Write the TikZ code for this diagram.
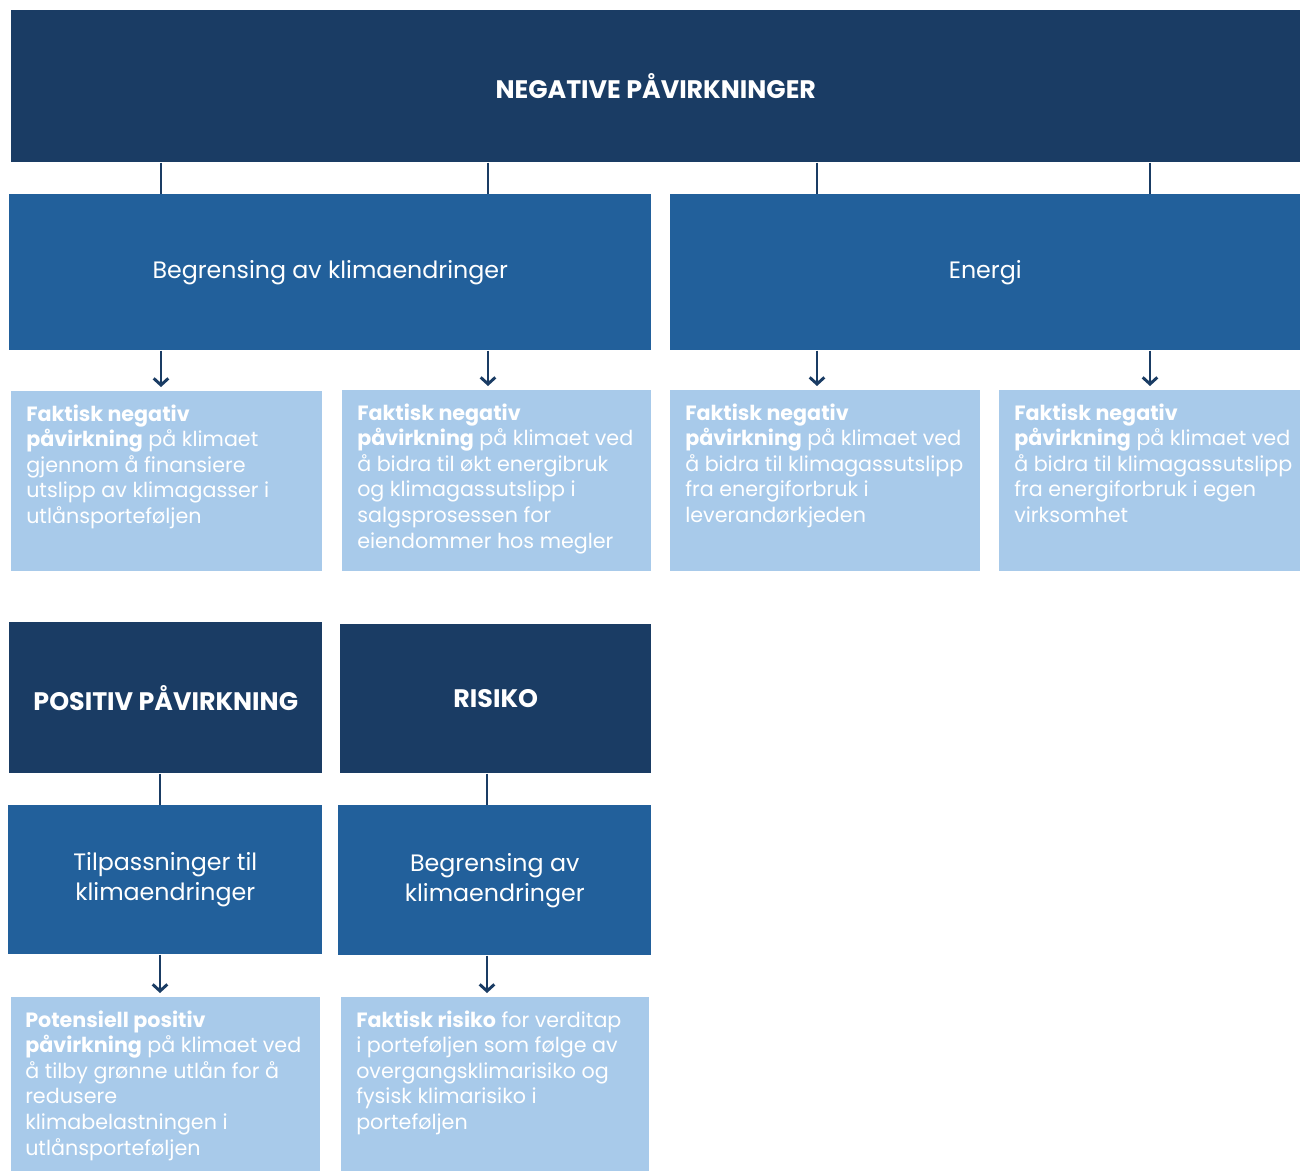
\documentclass[tikz,border=0pt]{standalone}
\usepackage{fontspec}
\setmainfont{Poppins}
\usetikzlibrary{arrows.meta}
\usetikzlibrary{positioning}
\definecolor{navy}{RGB}{26,60,100}
\definecolor{midblue}{RGB}{34,96,155}
\definecolor{lightblue}{RGB}{168,202,234}

\tikzset{
	headbox/.style={fill=navy, text=white, font=\fontsize{19}{23}\selectfont\bfseries, anchor=north west, inner sep=0pt, align=center},
	subbox/.style={fill=midblue, text=white, font=\fontsize{17.8}{22.5}\selectfont, anchor=north west, inner sep=0pt, align=center},
	infobox/.style={fill=lightblue, anchor=north west, inner sep=0pt},
	infotext/.style={text=white, font=\fontsize{15.5}{19.2}\selectfont, anchor=north west, inner sep=0pt, align=left},
	link/.style={draw=navy, line width=2.2pt},
	arr/.style={link, -{Straight Barb[length=5pt,width=11pt]}, shorten >=3pt}
}

\begin{document}
\begin{tikzpicture}[x=0.75pt,y=0.75pt,yscale=-1,xscale=1]
	\useasboundingbox (0,0) rectangle (1300,1171);

	% Column positions
	\coordinate (c1) at (161,0);
	\coordinate (c2) at (488,0);
	\coordinate (c3) at (817,0);
	\coordinate (c4) at (1150,0);
	\coordinate (d1) at (160,0);
	\coordinate (d2) at (487,0);

	% Negative
	\node[headbox, minimum width=966.75pt, minimum height=114pt] (neg) at (11,10) {NEGATIVE PÅVIRKNINGER};
	\node[subbox, minimum width=481.5pt, minimum height=117pt] (begr) at (9,194) {Begrensing av klimaendringer};
	\node[subbox, minimum width=472.5pt, minimum height=117pt] (energi) at (670,194) {Energi};

	\node[infobox, minimum width=233.25pt, minimum height=135pt] (f1) at (11,391) {};
	\node[infobox, minimum width=231.75pt, minimum height=135.75pt] (f2) at (342,390) {};
	\node[infobox, minimum width=232.5pt, minimum height=135.75pt] (f3) at (670,390) {};
	\node[infobox, minimum width=225.75pt, minimum height=135.75pt] (f4) at (999,390) {};

	\node[infotext] (f1t) at ([xshift=11.25pt,yshift=10pt]f1.north west) {\textbf{Faktisk negativ}\\\textbf{påvirkning} på klimaet\\gjennom å finansiere\\utslipp av klimagasser i\\utlånsporteføljen};
	\node[infotext] (f2t) at ([xshift=11.25pt,yshift=10pt]f2.north west) {\textbf{Faktisk negativ}\\\textbf{påvirkning} på klimaet ved\\å bidra til økt energibruk\\og klimagassutslipp i\\salgsprosessen for\\eiendommer hos megler};
	\node[infotext] (f3t) at ([xshift=11.25pt,yshift=10pt]f3.north west) {\textbf{Faktisk negativ}\\\textbf{påvirkning} på klimaet ved\\å bidra til klimagassutslipp\\fra energiforbruk i\\leverandørkjeden};
	\node[infotext] (f4t) at ([xshift=11.25pt,yshift=10pt]f4.north west) {\textbf{Faktisk negativ}\\\textbf{påvirkning} på klimaet ved\\å bidra til klimagassutslipp\\fra energiforbruk i egen\\virksomhet};

	% Positive and risk
	\node[headbox, minimum width=234.75pt, minimum height=113.25pt] (pos) at (9,622) {POSITIV PÅVIRKNING};
	\node[headbox, minimum width=233.25pt, minimum height=111.75pt] (risiko) at (340,624) {RISIKO};
	\node[subbox, minimum width=235.5pt, minimum height=111.75pt] (tilp) at (8,805) {Tilpassninger til\\klimaendringer};
	\node[subbox, minimum width=234.75pt, minimum height=112.5pt] (begr2) at (338,805) {Begrensing av\\klimaendringer};

	\node[infobox, minimum width=231.75pt, minimum height=130.5pt] (p1) at (11,997) {};
	\node[infobox, minimum width=231pt, minimum height=130.5pt] (r1) at (341,997) {};

	\node[infotext] (p1t) at ([xshift=10.5pt,yshift=10pt]p1.north west) {\textbf{Potensiell positiv}\\\textbf{påvirkning} på klimaet ved\\å tilby grønne utlån for å\\redusere\\klimabelastningen i\\utlånsporteføljen};
	\node[infotext] (r1t) at ([xshift=11.25pt,yshift=10pt]r1.north west) {\textbf{Faktisk risiko} for verditap\\i porteføljen som følge av\\overgangsklimarisiko og\\fysisk klimarisiko i\\porteføljen};

	% Connectors
	\draw[link] (neg.south -| c1) -- (begr.north -| c1);
	\draw[link] (neg.south -| c2) -- (begr.north -| c2);
	\draw[link] (neg.south -| c3) -- (energi.north -| c3);
	\draw[link] (neg.south -| c4) -- (energi.north -| c4);
	\draw[arr] (begr.south -| c1) -- (f1.north -| c1);
	\draw[arr] (begr.south -| c2) -- (f2.north -| c2);
	\draw[arr] (energi.south -| c3) -- (f3.north -| c3);
	\draw[arr] (energi.south -| c4) -- (f4.north -| c4);

	\draw[link] (pos.south -| d1) -- (tilp.north -| d1);
	\draw[link] (risiko.south -| d2) -- (begr2.north -| d2);
	\draw[arr] (tilp.south -| d1) -- (p1.north -| d1);
	\draw[arr] (begr2.south -| d2) -- (r1.north -| d2);

\end{tikzpicture}
\end{document}
